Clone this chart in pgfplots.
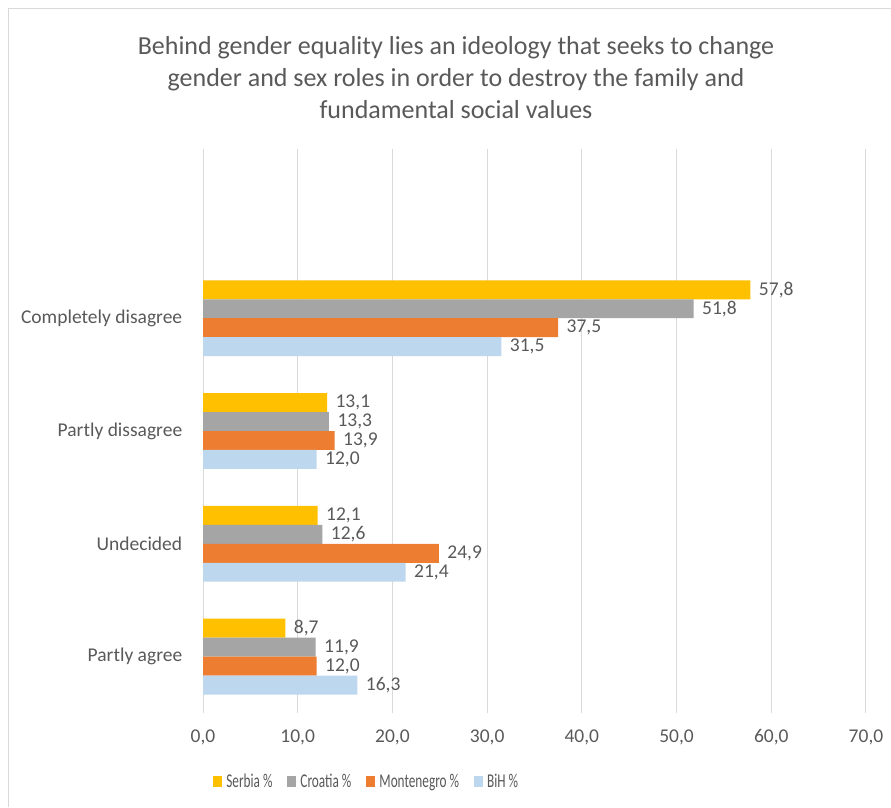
\documentclass[border=0pt]{standalone}
\usepackage{pgfplots}
\pgfplotsset{compat=1.18}
\usepackage{fontspec}
\setmainfont{Carlito}
\definecolor{serbia}{HTML}{FFC000}
\definecolor{croatia}{HTML}{A5A5A5}
\definecolor{monte}{HTML}{ED7D31}
\definecolor{bih}{HTML}{BDD7EE}
\definecolor{txt}{HTML}{595959}
\definecolor{gridc}{HTML}{D9D9D9}
\newcommand{\legtxt}[1]{\scalebox{0.68}[1]{#1}}
\begin{document}
\begin{tikzpicture}[x=1pt,y=1pt]
\useasboundingbox (0,0) rectangle (891,807);
\draw[gridc, line width=1pt] (8,0) -- (8,798) -- (891,798);
\begin{axis}[
  at={(203pt,94pt)}, anchor=south west,
  scale only axis, width=663pt, height=564pt,
  xbar, bar width=0.168,
  xmin=0, xmax=70, ymin=-0.5, ymax=4.5,
  xtick={0,10,...,70},
  ytick={0,1,2,3},
  yticklabels={Partly agree, Undecided, Partly dissagree, Completely disagree},
  axis line style={draw=none},
  major tick style={draw=none},
  xmajorgrids=true, ymajorgrids=false,
  major grid style={draw=gridc, line width=1pt},
  /pgf/number format/assume math mode=true,
  xticklabel={\pgfmathprintnumber[fixed, fixed zerofill, precision=1, use comma]{\tick}},
  xticklabel style={font=\fontsize{19.5}{22}\selectfont, text=txt, yshift=-13pt},
  yticklabel style={font=\fontsize{19.5}{22}\selectfont, text=txt, xshift=-13pt},
  nodes near coords,
  nodes near coords style={font=\fontsize{19.5}{22}\selectfont, text=txt, xshift=5pt},
  every node near coord/.append style={/pgf/number format/.cd, fixed, fixed zerofill, precision=1, use comma, assume math mode=true},
  legend columns=4,
  legend style={draw=none, at={(axis description cs:0.247,-0.122)}, anchor=center,
    font=\fontsize{19.5}{22}\selectfont, text=txt,
    /tikz/every odd column/.append style={column sep=0pt},
    /tikz/every even column/.append style={column sep=13pt}},
  legend image code/.code={\fill[#1] (0pt,-5pt) rectangle (9pt,6pt); \path (0pt,0pt) -- (11pt,0pt);},
]
\addplot[fill=serbia, draw=none, bar shift=0.252] coordinates {(8.7,0) (12.1,1) (13.1,2) (57.8,3)};
\addlegendentry{\legtxt{Serbia \%}}
\addplot[fill=croatia, draw=none, bar shift=0.084] coordinates {(11.9,0) (12.6,1) (13.3,2) (51.8,3)};
\addlegendentry{\legtxt{Croatia \%}}
\addplot[fill=monte, draw=none, bar shift=-0.084] coordinates {(12.0,0) (24.9,1) (13.9,2) (37.5,3)};
\addlegendentry{\legtxt{Montenegro \%}}
\addplot[fill=bih, draw=none, bar shift=-0.252] coordinates {(16.3,0) (21.4,1) (12.0,2) (31.5,3)};
\addlegendentry{\legtxt{BiH \%}}
\end{axis}
\node[align=center, text=txt, font=\fontsize{26}{32}\selectfont] at (456,729)
  {Behind gender equality lies an ideology that seeks to change\\gender and sex roles in order to destroy the family and\\fundamental social values};
\end{tikzpicture}
\end{document}
